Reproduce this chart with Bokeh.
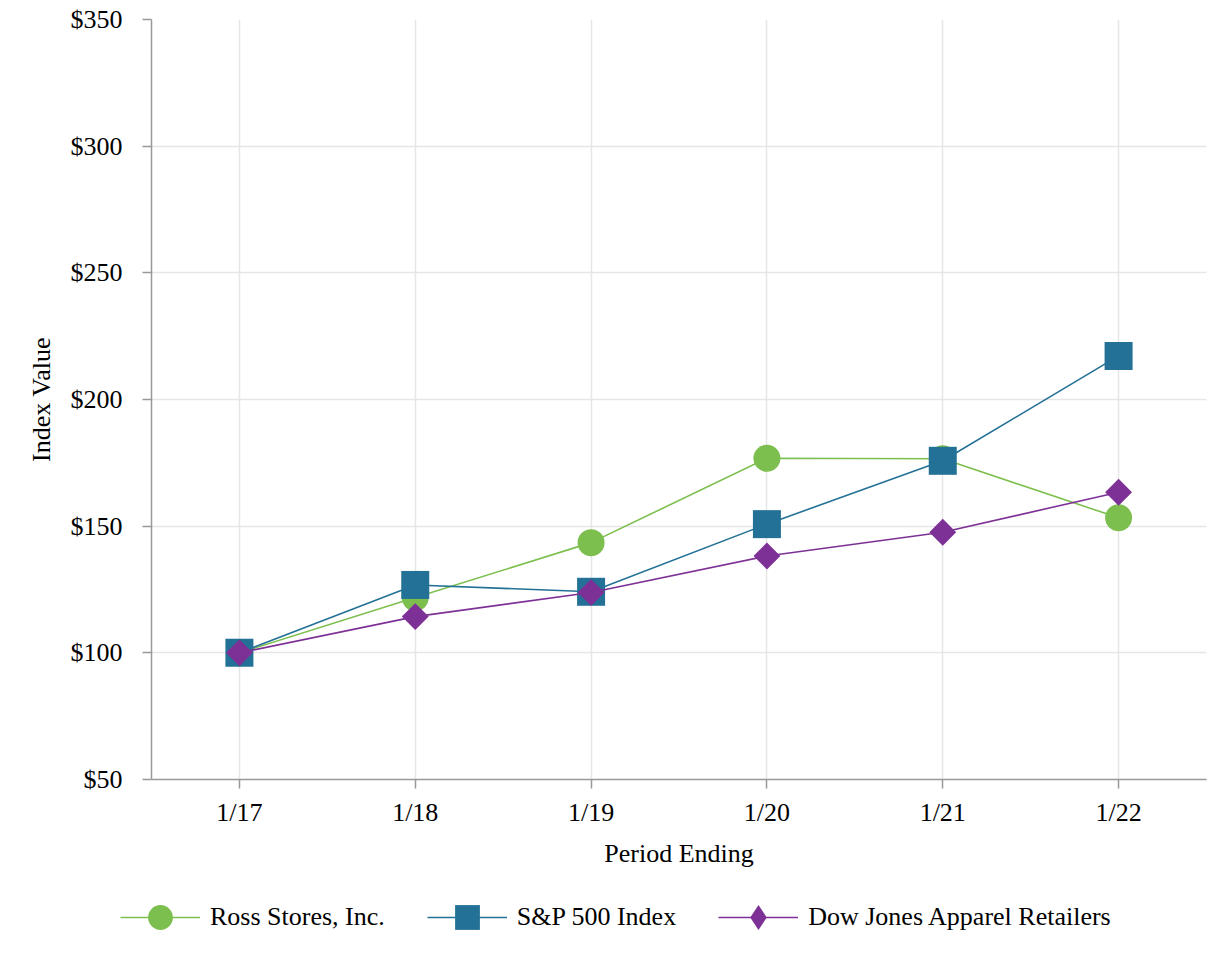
from bokeh.plotting import figure
from bokeh.models import (FactorRange, Range1d, FixedTicker, NumeralTickFormatter,
                          Legend, LegendItem)
from bokeh.layouts import column
from bokeh.embed import file_html
from bokeh.resources import INLINE
import math

periods = ["1/17", "1/18", "1/19", "1/20", "1/21", "1/22"]
ross = [100, 121.8, 143.5, 176.8, 176.6, 153.3]
sp500 = [100, 126.8, 124.1, 150.8, 175.8, 217.2]
dow = [100, 114.3, 123.8, 138.2, 147.6, 163.4]
y_ticks = [50, 100, 150, 200, 250, 300, 350]
series_names = ["Ross Stores, Inc.", "S&P 500 Index", "Dow Jones Apparel Retailers"]

GREEN = "#7dbf4f"
BLUE = "#237196"
PURPLE = "#7d3196"
FONT = "Liberation Serif"

chart = figure(width=1218, height=880, x_range=FactorRange(*periods),
               y_range=Range1d(50, 350), output_backend="svg", toolbar_location=None,
               min_border_left=151, min_border_right=12, min_border_top=19,
               min_border_bottom=101)
chart.outline_line_color = None
chart.frame_align = False

chart.line(periods, ross, line_color=GREEN, line_width=1.6)
chart.scatter(periods, ross, marker="circle", size=27, fill_color=GREEN, line_color=None)
chart.line(periods, sp500, line_color=BLUE, line_width=1.6)
chart.scatter(periods, sp500, marker="square", size=28, fill_color=BLUE, line_color=None)
chart.line(periods, dow, line_color=PURPLE, line_width=1.6)
chart.scatter(periods, dow, marker="square", size=19, angle=math.pi / 4,
              fill_color=PURPLE, line_color=None)

for ax in (chart.xaxis[0], chart.yaxis[0]):
    ax.axis_line_color = "#999999"
    ax.axis_line_width = 1.5
    ax.major_tick_line_color = "#999999"
    ax.major_tick_line_width = 1.5
    ax.major_tick_out = 9
    ax.major_tick_in = 0
    ax.minor_tick_line_color = None
    ax.major_label_text_font = FONT
    ax.major_label_text_font_size = "26px"
    ax.major_label_text_color = "#000000"
    ax.axis_label_text_font = FONT
    ax.axis_label_text_font_size = "26px"
    ax.axis_label_text_font_style = "normal"
    ax.axis_label_text_color = "#000000"

chart.yaxis[0].ticker = FixedTicker(ticks=y_ticks)
chart.yaxis[0].formatter = NumeralTickFormatter(format="$0")
chart.yaxis[0].major_label_standoff = 20
chart.yaxis[0].axis_label = "Index Value"
chart.yaxis[0].axis_label_standoff = 12
chart.xaxis[0].major_label_standoff = 9
chart.xaxis[0].axis_label = "Period Ending"
chart.xaxis[0].axis_label_standoff = 9

chart.xgrid.grid_line_color = "#e6e6e6"
chart.xgrid.grid_line_width = 1.5
chart.ygrid.grid_line_color = "#e6e6e6"
chart.ygrid.grid_line_width = 1.5
chart.ygrid.ticker = FixedTicker(ticks=y_ticks)

# legend strip below the chart
leg = figure(width=1218, height=72, x_range=Range1d(0, 1), y_range=Range1d(0, 1),
             output_backend="svg", toolbar_location=None,
             x_axis_location=None, y_axis_location=None,
             min_border_left=0, min_border_right=0, min_border_top=0, min_border_bottom=0)
leg.outline_line_color = None
leg.frame_align = False
leg.xgrid.visible = False
leg.ygrid.visible = False
nan = [float("nan")]
k1l = leg.line([0], nan, line_color=GREEN, line_width=1.6)
k1s = leg.scatter([0], nan, marker="circle", fill_color=GREEN, line_color=None)
k2l = leg.line([0], nan, line_color=BLUE, line_width=1.6)
k2s = leg.scatter([0], nan, marker="square", fill_color=BLUE, line_color=None)
k3l = leg.line([0], nan, line_color=PURPLE, line_width=1.6)
k3s = leg.scatter([0], nan, marker="diamond", fill_color=PURPLE, line_color=None)

legend = Legend(items=[
    LegendItem(label=series_names[0], renderers=[k1l, k1s]),
    LegendItem(label=series_names[1], renderers=[k2l, k2s]),
    LegendItem(label=series_names[2], renderers=[k3l, k3s]),
], orientation="horizontal", location=(120, 4))
legend.glyph_width = 80
legend.glyph_height = 62
legend.label_standoff = 10
legend.spacing = 42
legend.padding = 0
legend.margin = 0
legend.border_line_color = None
legend.background_fill_color = None
legend.background_fill_alpha = 0
legend.label_text_font = FONT
legend.label_text_font_size = "26px"
legend.label_text_color = "#000000"
leg.add_layout(legend, "center")

p = column(chart, leg, spacing=0)
open("out.html", "w").write(file_html(p, INLINE))
